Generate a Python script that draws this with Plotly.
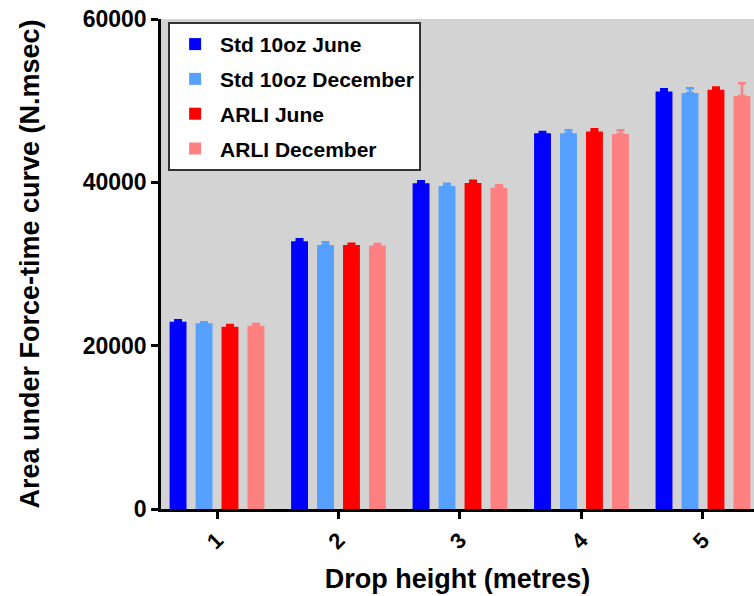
import plotly.graph_objects as go

drop_heights = [1, 2, 3, 4, 5]
tick_labels = ["1", "2", "3", "4", "5"]
series_names = ["Std 10oz June", "Std 10oz December", "ARLI June", "ARLI December"]
std_june = [22940, 32790, 39890, 46010, 51110]
std_june_err = [170, 245, 250, 160, 290]
std_dec = [22740, 32330, 39560, 46010, 50950]
std_dec_err = [120, 330, 280, 370, 580]
arli_june = [22330, 32330, 39930, 46210, 51350]
arli_june_err = [200, 160, 250, 290, 250]
arli_dec = [22450, 32250, 39350, 45930, 50580]
arli_dec_err = [200, 200, 290, 450, 1550]
y_ticks = [0, 20000, 40000, 60000]

colors = ["#0000ff", "#56a0ff", "#ff0000", "#ff8080"]
values = [std_june, std_dec, arli_june, arli_dec]
errors = [std_june_err, std_dec_err, arli_june_err, arli_dec_err]

FONT = "Liberation Sans, Arial, sans-serif"

fig = go.Figure()
for i, (name, vals, errs, col) in enumerate(zip(series_names, values, errors, colors)):
    fig.add_trace(go.Bar(
        x=drop_heights, y=vals, name=name,
        marker=dict(color=col, line=dict(width=0)),
        error_y=dict(type="data", array=errs, arrayminus=[0] * len(errs), symmetric=False,
                     color=col, thickness=2.5, width=4),
        legendgroup=f"g{i}",
    ))

fig.update_layout(
    width=754, height=596,
    margin=dict(l=161, r=0, t=19, b=87, pad=0),
    paper_bgcolor="white",
    plot_bgcolor="#d3d3d3",
    barmode="group",
    bargap=0.145,
    bargroupgap=0.35,
    font=dict(family=FONT, color="black"),
    showlegend=True,
    legend=dict(
        x=0.012, y=0.994, xanchor="left", yanchor="top",
        bgcolor="white", bordercolor="#333333", borderwidth=2,
        font=dict(family=FONT, size=21, color="black", weight="bold"),
        traceorder="grouped", tracegroupgap=4.5, itemwidth=40,
    ),
    xaxis=dict(
        range=[0.539, 5.42],
        tickmode="array", tickvals=drop_heights, ticktext=tick_labels,
        tickangle=-45,
        tickfont=dict(family=FONT, size=22, color="black", weight="bold"),
        ticks="outside", ticklen=7, tickwidth=2.5, tickcolor="black",
        showline=True, linecolor="black", linewidth=2.5,
        showgrid=False, zeroline=False,
        title=dict(text="Drop height (metres)", standoff=16,
                   font=dict(family=FONT, size=27, color="black", weight="bold")),
    ),
    yaxis=dict(
        range=[0, 60000],
        tickmode="array", tickvals=y_ticks, ticktext=[str(v) for v in y_ticks],
        tickfont=dict(family=FONT, size=23, color="black", weight="bold"),
        ticks="outside", ticklen=7, tickwidth=2.5, tickcolor="black",
        showline=True, linecolor="black", linewidth=2.5,
        showgrid=False, zeroline=False,
        title=dict(text="Area under Force-time curve (N.msec)", standoff=36,
                   font=dict(family=FONT, size=27, color="black", weight="bold")),
    ),
)

fig.write_html("out.html")
